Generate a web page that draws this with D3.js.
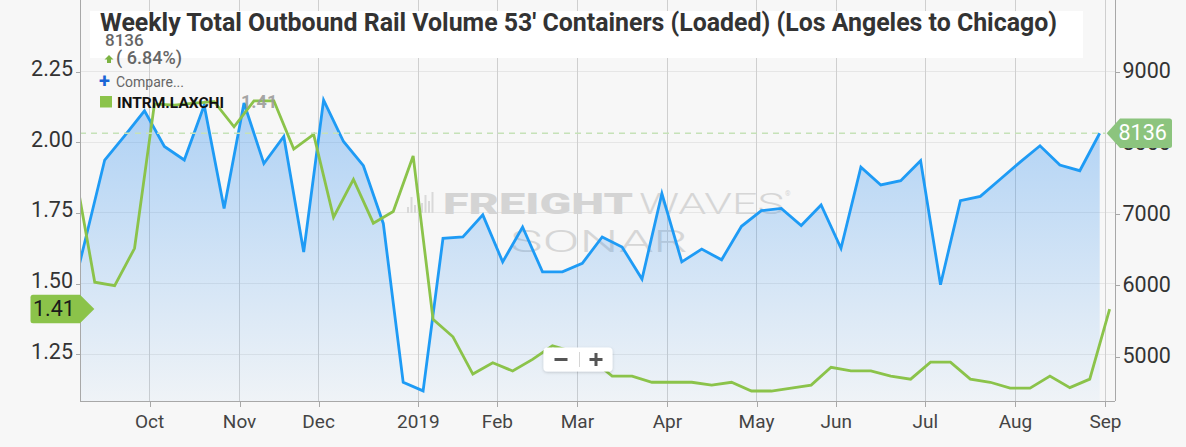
<!DOCTYPE html>
<html><head><meta charset="utf-8">
<script src="https://cdn.jsdelivr.net/npm/d3@7"></script>
<style>
html,body{margin:0;padding:0;background:#f7f7f7;}
svg{display:block;font-family:Roboto,"Noto Sans",sans-serif;}
</style></head><body>
<svg id="chart" width="1186" height="447"></svg>
<script>
// ---------------- data ----------------
const chartTitle = "Weekly Total Outbound Rail Volume 53' Containers (Loaded) (Los Angeles to Chicago)";
const seriesName = "INTRM.LAXCHI";
// ordinal week positions (Highstock ordinal axis)
const volumeWeeks = d3.range(-2, 51);
const volumeValues = [5460, 6610, 7760, 8100, 8450, 7950, 7760, 8530, 7080, 8560,
  7710, 8090, 6470, 8600, 8020, 7680, 6870, 4640, 4520, 6660,
  6680, 6990, 6330, 6820, 6190, 6190, 6310, 6680, 6540, 6090,
  7290, 6330, 6510, 6360, 6830, 7050, 7080, 6840, 7130, 6520,
  7660, 7410, 7470, 7750, 6010, 7190, 7250, 7490, 7730, 7960,
  7690, 7610, 8136];
const rateWeeks = d3.range(-1.5, 51, 1);
const rateValues = [1.90, 1.505, 1.493, 1.625, 2.136, 2.132, 2.139, 2.144, 2.055, 2.147,
  2.147, 1.976, 2.028, 1.735, 1.869, 1.714, 1.755, 1.952, 1.374, 1.312,
  1.180, 1.220, 1.191, 1.232, 1.28, 1.26, 1.23, 1.173, 1.173, 1.151,
  1.151, 1.151, 1.141, 1.151, 1.120, 1.120, 1.130, 1.141, 1.204, 1.191,
  1.191, 1.173, 1.162, 1.222, 1.222, 1.162, 1.151, 1.130, 1.130, 1.173,
  1.132, 1.162, 1.41];
const monthTickWeeks = [2.256, 6.779, 10.749, 15.764, 19.734, 23.754, 28.281, 32.754, 36.764, 41.241, 45.769, 50.291];
const monthTickLabels = ["Oct", "Nov", "Dec", "2019", "Feb", "Mar", "Apr", "May", "Jun", "Jul", "Aug", "Sep"];
const rateTicks = [1.25, 1.50, 1.75, 2.00, 2.25];
const volumeTicks = [5000, 6000, 7000, 8000, 9000];
const lastVolume = 8136;
const lastChangeText = "( 6.84%)";
const lastRate = 1.41;

// ---------------- layout ----------------
const L = 80, R = 1115, T = 0, B = 401;
const svg = d3.select("#chart");
const x = d3.scaleLinear().domain([-1.241, 50.769]).range([L, R]);
const yL = d3.scaleLinear().domain([1.0847, 2.5037]).range([B, T]);
const yR = d3.scaleLinear().domain([4378, 10006]).range([B, T]);

const defs = svg.append("defs");
defs.append("clipPath").attr("id", "plotClip").append("rect")
  .attr("x", L).attr("y", T).attr("width", R - L).attr("height", B - T);
const grad = defs.append("linearGradient").attr("id", "areaGrad")
  .attr("gradientUnits", "userSpaceOnUse").attr("x1", 0).attr("x2", 0).attr("y1", 90).attr("y2", B);
grad.append("stop").attr("offset", 0).attr("stop-color", "#2f8ff0").attr("stop-opacity", 0.38);
grad.append("stop").attr("offset", 1).attr("stop-color", "#2f8ff0").attr("stop-opacity", 0.04);
const shadow = defs.append("filter").attr("id", "shadow").attr("x", "-20%").attr("y", "-30%").attr("width", "140%").attr("height", "160%");
shadow.append("feDropShadow").attr("dx", 0).attr("dy", 1).attr("stdDeviation", 1.5).attr("flood-color", "#000").attr("flood-opacity", 0.18);

// gridlines
svg.append("g").selectAll("line").data(rateTicks).join("line")
  .attr("x1", L).attr("x2", R).attr("y1", d => yL(d)).attr("y2", d => yL(d))
  .attr("stroke", "#e6e6e6").attr("stroke-width", 1).attr("shape-rendering", "crispEdges");
svg.append("g").selectAll("line").data(monthTickWeeks).join("line")
  .attr("x1", d => x(d)).attr("x2", d => x(d)).attr("y1", T).attr("y2", B)
  .attr("stroke", "#cfcfcf").attr("stroke-width", 1).attr("shape-rendering", "crispEdges");

// watermark
const wm = svg.append("g").attr("fill", "#d9d9d9");
[[407,6],[410.5,16],[414,8],[417.5,20],[421,10],[424.5,18],[428,12],[431.5,21]].forEach(([bx,h])=>{
  wm.append("rect").attr("x", bx).attr("y", 213 - h).attr("width", 2).attr("height", h);
});
wm.append("text").attr("x", 443).attr("y", 214).attr("font-size", 30).attr("font-weight", 900)
  .attr("textLength", 190).attr("lengthAdjust", "spacingAndGlyphs").attr("fill", "#d4d4d4").text("FREIGHT");
wm.append("text").attr("x", 639).attr("y", 214).attr("font-size", 30).attr("font-weight", 300)
  .attr("textLength", 145).attr("lengthAdjust", "spacingAndGlyphs").attr("fill", "#d6d6d6").text("WAVES");
wm.append("text").attr("x", 785).attr("y", 196).attr("font-size", 7).attr("fill", "#d6d6d6").text("®");
wm.append("text").attr("x", 510).attr("y", 251.5).attr("font-size", 31).attr("font-weight", 300)
  .attr("textLength", 178).attr("lengthAdjust", "spacingAndGlyphs").attr("fill", "#d6d6d6").text("SONAR");

// series
const plot = svg.append("g").attr("clip-path", "url(#plotClip)");
const volData = volumeWeeks.map((w, i) => ({w, v: volumeValues[i]}));
const rateData = rateWeeks.map((w, i) => ({w, v: rateValues[i]}));
plot.append("path").datum(volData)
  .attr("d", d3.area().x(d => x(d.w)).y0(B).y1(d => yR(d.v)))
  .attr("fill", "url(#areaGrad)");
plot.append("path").datum(volData)
  .attr("d", d3.line().x(d => x(d.w)).y(d => yR(d.v)))
  .attr("fill", "none").attr("stroke", "#1e9bf5").attr("stroke-width", 2.8).attr("stroke-linejoin", "miter");
// last value dashed line
svg.append("line").attr("x1", L).attr("x2", x(volumeWeeks[volumeWeeks.length - 1]) + 6)
  .attr("y1", yR(lastVolume)).attr("y2", yR(lastVolume))
  .attr("stroke", "#c6e2b8").attr("stroke-width", 1.3).attr("stroke-dasharray", "6,5");
plot.append("path").datum(rateData)
  .attr("d", d3.line().x(d => x(d.w)).y(d => yL(d.v)))
  .attr("fill", "none").attr("stroke", "#8bc34a").attr("stroke-width", 2.8).attr("stroke-linejoin", "miter");

// axes lines
const axisColor = "#a8a8a8";
svg.append("line").attr("x1", L + 0.5).attr("x2", L + 0.5).attr("y1", T).attr("y2", B).attr("stroke", axisColor);
svg.append("line").attr("x1", R + 0.5).attr("x2", R + 0.5).attr("y1", T).attr("y2", B).attr("stroke", axisColor);
svg.append("line").attr("x1", L).attr("x2", R).attr("y1", B + 0.5).attr("y2", B + 0.5).attr("stroke", axisColor);

// left axis
const gl = svg.append("g");
gl.selectAll("line").data(rateTicks).join("line")
  .attr("x1", L - 4).attr("x2", L).attr("y1", d => Math.round(yL(d)) + 0.5).attr("y2", d => Math.round(yL(d)) + 0.5)
  .attr("stroke", axisColor);
gl.selectAll("text").data(rateTicks).join("text")
  .attr("x", 73).attr("y", d => yL(d) + 4.5).attr("text-anchor", "end")
  .attr("font-size", 21.5).attr("fill", "#333").text(d => d3.format(".2f")(d));

// right axis
const gr = svg.append("g");
gr.selectAll("line").data(volumeTicks).join("line")
  .attr("x1", R).attr("x2", R + 5).attr("y1", d => Math.round(yR(d)) + 0.5).attr("y2", d => Math.round(yR(d)) + 0.5)
  .attr("stroke", axisColor);
gr.selectAll("text").data(volumeTicks).join("text")
  .attr("x", 1122.5).attr("y", d => yR(d) + 6.7).attr("text-anchor", "start")
  .attr("font-size", 21.5).attr("fill", "#333").text(d => d);

// bottom axis
const gb = svg.append("g");
gb.selectAll("line").data(monthTickWeeks).join("line")
  .attr("x1", d => Math.round(x(d)) + 0.5).attr("x2", d => Math.round(x(d)) + 0.5).attr("y1", B).attr("y2", B + 6)
  .attr("stroke", axisColor);
gb.selectAll("text").data(monthTickWeeks).join("text")
  .attr("x", d => x(d)).attr("y", 428.3).attr("text-anchor", "middle")
  .attr("font-size", 19).attr("fill", "#444").text((d, i) => monthTickLabels[i]);

// title box
svg.append("rect").attr("x", 90).attr("y", 11).attr("width", 993).attr("height", 47).attr("fill", "#fff");
svg.append("text").attr("x", 100).attr("y", 30.7).attr("font-size", 26.5).attr("font-weight", 700)
  .attr("fill", "#333").attr("textLength", 957).attr("lengthAdjust", "spacingAndGlyphs").text(chartTitle);
svg.append("text").attr("x", 105).attr("y", 46).attr("font-size", 17).attr("font-weight", 500)
  .attr("fill", "#666").text(lastVolume);
svg.append("path").attr("d", "M109,55 L113.5,59.5 L111,59.5 L111,63 L107,63 L107,59.5 L104.5,59.5 Z").attr("fill", "#7cb342");
svg.append("text").attr("x", 116).attr("y", 64).attr("font-size", 18).attr("font-weight", 500)
  .attr("fill", "#666").text(lastChangeText);
svg.append("text").attr("x", 99).attr("y", 87.5).attr("font-size", 20).attr("font-weight", 700)
  .attr("fill", "#1a66d6").text("+");
svg.append("text").attr("x", 116).attr("y", 87).attr("font-size", 14).attr("fill", "#666").text("Compare...");
svg.append("rect").attr("x", 100).attr("y", 96).attr("width", 12).attr("height", 11.5).attr("fill", "#8bc34a");
svg.append("text").attr("x", 117).attr("y", 107.5).attr("font-size", 15.5).attr("font-weight", 700)
  .attr("fill", "#111").text(seriesName);
svg.append("text").attr("x", 241).attr("y", 107.5).attr("font-size", 18).attr("font-weight", 700)
  .attr("fill", "#9a9a9a").attr("fill-opacity", 0.9).text(d3.format(".2f")(lastRate));

// current value labels
const yl = yL(lastRate);
svg.append("path").attr("d", `M33,${yl-14.3} L80,${yl-14.3} L94.3,${yl} L80,${yl+14.3} L33,${yl+14.3} Q30.5,${yl+14.3} 30.5,${yl+11.8} L30.5,${yl-11.8} Q30.5,${yl-14.3} 33,${yl-14.3} Z`)
  .attr("fill", "#8bc34a");
svg.append("text").attr("x", 33).attr("y", yl + 6.5).attr("font-size", 21.5).attr("fill", "#1a1a1a").text(d3.format(".2f")(lastRate));
const yr = yR(lastVolume);
svg.append("path").attr("d", `M1106.7,${yr} L1120,${yr-14.8} L1169.5,${yr-14.8} Q1172,${yr-14.8} 1172,${yr-12.3} L1172,${yr+12.3} Q1172,${yr+14.8} 1169.5,${yr+14.8} L1120,${yr+14.8} Z`)
  .attr("fill", "#8cc47e");
svg.append("text").attr("x", 1118.5).attr("y", yr + 6.7).attr("font-size", 21.5).attr("fill", "#fff").text(lastVolume);

// zoom control
const zc = svg.append("g");
zc.append("rect").attr("x", 543.5).attr("y", 347.5).attr("width", 69).attr("height", 24).attr("rx", 4)
  .attr("fill", "#fff").attr("filter", "url(#shadow)");
zc.append("line").attr("x1", 579.5).attr("x2", 579.5).attr("y1", 352).attr("y2", 367).attr("stroke", "#d5d5d5");
zc.append("rect").attr("x", 554.5).attr("y", 358).attr("width", 13).attr("height", 3).attr("fill", "#555");
zc.append("rect").attr("x", 589.5).attr("y", 358).attr("width", 13).attr("height", 3).attr("fill", "#555");
zc.append("rect").attr("x", 594.5).attr("y", 353).attr("width", 3).attr("height", 13).attr("fill", "#555");
</script>
</body></html>
